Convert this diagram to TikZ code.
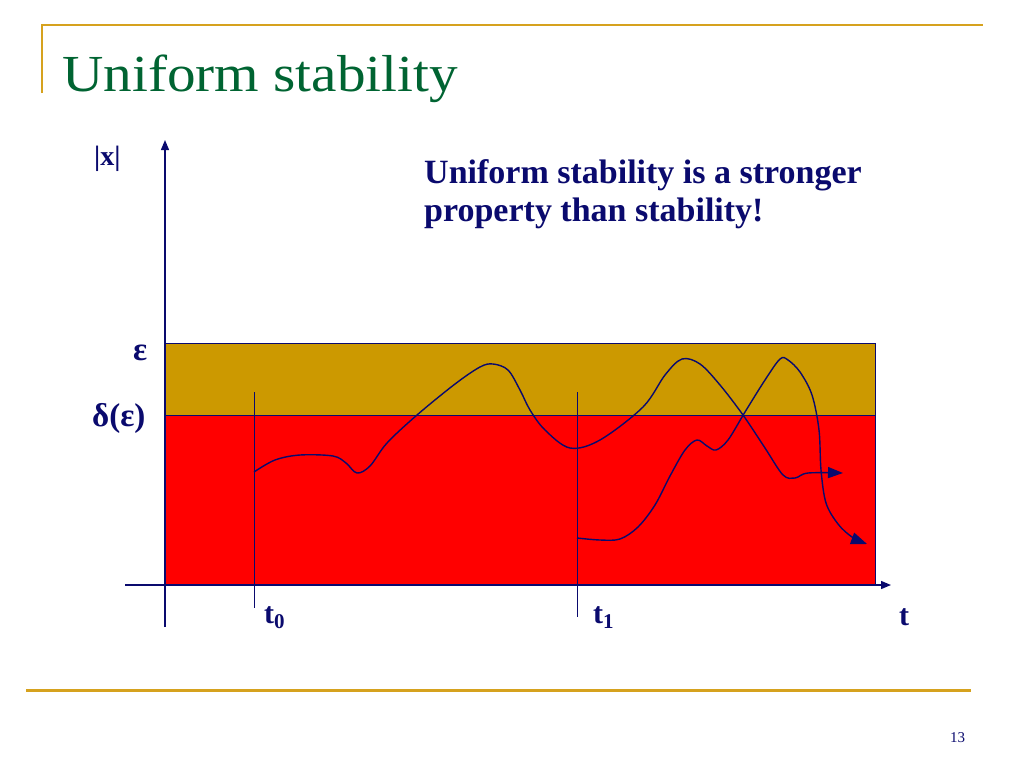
\documentclass[tikz,border=0pt]{standalone}
\usepackage{fontspec}
\setmainfont{Liberation Serif}
\usetikzlibrary{arrows.meta}
\definecolor{navy}{RGB}{10,10,110}
\definecolor{gold}{RGB}{204,153,0}
\definecolor{rule}{RGB}{214,162,30}
\definecolor{titlegreen}{RGB}{0,100,50}
\tikzset{
  lbl/.style={text=navy,font=\fontsize{30}{34}\selectfont\bfseries,inner sep=0pt,anchor=base west},
  body/.style={text=navy,font=\fontsize{34}{38}\selectfont\bfseries,inner sep=0pt,anchor=base west},
  curve/.style={navy,line width=1.4pt},
  tline/.style={navy,line width=1pt},
  axis/.style={navy,line width=1.3pt,-{Triangle[length=10pt,width=8pt]}},
}
\begin{document}
\begin{tikzpicture}[x=1pt,y=-1pt]
\useasboundingbox[fill=white] (0,0) rectangle (1024,768);
% header / footer rules
\draw[rule,line width=2pt] (42,93) -- (42,25) -- (983,25);
\draw[rule,line width=3pt] (26,690) -- (971,690);
\node[text=titlegreen,font=\fontsize{52}{56}\selectfont,inner sep=0pt,anchor=base west,transform shape,xscale=1.1] (title) at (62,91) {Uniform stability};
\node[text=navy,font=\fontsize{15}{17}\selectfont,inner sep=0pt,anchor=base west] (pg) at (950,742) {13};
% regions
\fill[gold] (165,343) rectangle (875,415);
\fill[red] (165,415) rectangle (875,585);
\draw[navy,line width=0.8pt] (165,343) -- (875,343) -- (875,585);
\draw[navy,line width=0.8pt] (165,415) -- (875,415);
% time lines
\draw[tline] (254,392) -- (254,608);
\draw[tline] (577,392) -- (577,617);
% curves
\draw[curve,-{Triangle[length=15pt,width=11pt]}] plot[smooth,tension=0.55] coordinates {
 (254,472) (275,460) (300,455) (333,456) (346,463) (357,473) (370,466) (387,443)
 (417,415) (455,384) (480,367) (493,364) (508,370) (520,390) (530,410) (545,430) (570,448)
 (600,440) (643,407) (665,375) (682,359) (700,364) (720,385) (743,415) (765,448)
 (783,475) (795,478) (808,473) (843,473)};
\draw[curve,-{Triangle[length=16pt,width=12pt]}] plot[smooth,tension=0.55] coordinates {
 (577,538) (600,540) (620,539) (638,527) (655,505) (670,476) (685,450) (697,440)
 (707,446) (716,450) (728,440) (745,412) (765,380) (780,359) (788,360) (800,372)
 (812,395) (819,430) (821,470) (826,503) (838,524) (852,537) (867,544)};
% axes
\draw[axis] (165,627) -- (165,140);
\draw[axis] (125,585) -- (891,585);
% labels
\node[lbl,font=\fontsize{28}{32}\selectfont\bfseries] (xl) at (94,165) {|x|};
\node[lbl,font=\fontsize{33}{36}\selectfont\bfseries] (eps) at (133,360) {ε};
\node[lbl,font=\fontsize{33}{36}\selectfont\bfseries] (del) at (92,426) {δ(ε)};
\node[lbl] (t0) at (264,623) {t\textsubscript{0}};
\node[lbl] (t1) at (593,623) {t\textsubscript{1}};
\node[lbl] (t) at (899,625) {t};
\node[body] (b1) at (424,183) {Uniform stability is a stronger};
\node[body] (b2) at (424,221) {property than stability!};
\end{tikzpicture}
\end{document}
